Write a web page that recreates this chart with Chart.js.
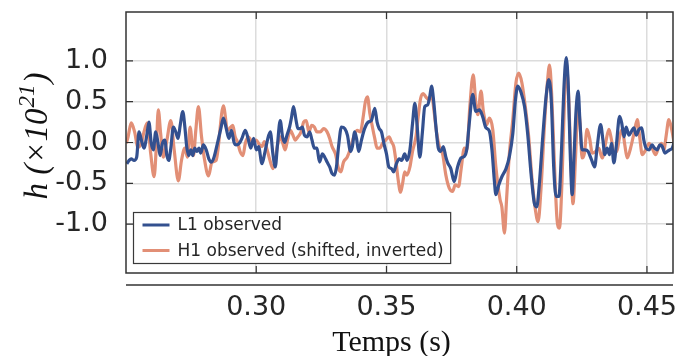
<!DOCTYPE html>
<html>
<head>
<meta charset="utf-8">
<script src="https://cdn.jsdelivr.net/npm/chart.js@4.4.1/dist/chart.umd.min.js"></script>
<style>
  html, body { margin: 0; padding: 0; background: #ffffff; }
  #wrap { width: 678px; height: 356px; position: relative; }
</style>
</head>
<body>
<div id="wrap"><canvas id="c"></canvas></div>
<script>
// ---- data (time in s, strain in units of 1e-21) ----
const seriesLabels = ['L1 observed', 'H1 observed (shifted, inverted)'];

const l1Observed = [
[0.2503,-0.26],[0.2512,-0.22],[0.2520,-0.20],[0.2531,-0.22],[0.2541,-0.18],[0.2550,0.13],[0.2559,0.03],[0.2569,-0.07],
[0.2580,0.09],[0.2588,0.25],[0.2597,-0.01],[0.2605,-0.09],[0.2614,0.13],[0.2623,-0.01],[0.2631,-0.16],[0.2640,-0.01],
[0.2649,0.03],[0.2657,-0.16],[0.2664,-0.22],[0.2672,-0.07],[0.2682,0.19],[0.2691,0.13],[0.2700,0.05],[0.2708,0.21],
[0.2718,0.38],[0.2726,0.19],[0.2733,-0.05],[0.2741,-0.16],[0.2749,-0.09],[0.2756,-0.16],[0.2764,-0.07],[0.2772,-0.11],
[0.2780,-0.07],[0.2787,-0.13],[0.2797,-0.03],[0.2808,-0.09],[0.2818,-0.20],[0.2828,-0.24],[0.2838,-0.18],[0.2851,-0.01],
[0.2864,0.17],[0.2874,0.30],[0.2885,0.17],[0.2895,0.05],[0.2905,0.15],[0.2915,0.00],[0.2923,-0.03],[0.2935,-0.01],
[0.2945,0.05],[0.2958,0.15],[0.2970,0.03],[0.2979,-0.07],[0.2990,0.05],[0.3000,-0.09],[0.3009,-0.05],[0.3022,-0.26],
[0.3032,-0.14],[0.3043,0.03],[0.3054,0.13],[0.3064,-0.14],[0.3073,-0.30],[0.3082,-0.01],[0.3092,0.27],[0.3101,0.07],
[0.3109,0.00],[0.3118,0.09],[0.3128,0.19],[0.3135,0.30],[0.3143,0.44],[0.3153,0.27],[0.3160,0.17],[0.3169,0.17],
[0.3177,0.19],[0.3185,0.09],[0.3195,0.07],[0.3205,0.13],[0.3214,0.03],[0.3223,-0.07],[0.3233,-0.07],[0.3243,-0.24],
[0.3254,-0.14],[0.3263,-0.18],[0.3272,-0.24],[0.3282,-0.30],[0.3291,-0.38],[0.3300,-0.40],[0.3308,-0.30],[0.3316,-0.05],
[0.3327,0.19],[0.3340,0.17],[0.3350,0.09],[0.3362,-0.11],[0.3369,-0.05],[0.3378,0.13],[0.3385,0.05],[0.3393,-0.11],
[0.3404,0.03],[0.3416,0.17],[0.3430,0.25],[0.3442,0.27],[0.3455,0.42],[0.3464,0.25],[0.3472,0.17],[0.3481,0.13],
[0.3490,-0.01],[0.3500,-0.14],[0.3509,-0.30],[0.3519,-0.32],[0.3528,-0.36],[0.3538,-0.26],[0.3549,-0.20],[0.3558,-0.22],
[0.3570,-0.14],[0.3579,-0.22],[0.3590,-0.09],[0.3600,0.23],[0.3609,0.48],[0.3618,0.19],[0.3628,-0.18],[0.3638,0.13],
[0.3647,0.44],[0.3658,0.46],[0.3667,0.58],[0.3673,0.69],[0.3682,0.48],[0.3690,0.19],[0.3699,-0.07],[0.3708,-0.11],
[0.3718,-0.05],[0.3728,-0.18],[0.3735,-0.25],[0.3747,-0.32],[0.3760,-0.48],[0.3773,-0.30],[0.3786,-0.19],[0.3799,-0.17],
[0.3808,-0.09],[0.3818,0.24],[0.3831,0.59],[0.3843,0.38],[0.3857,0.40],[0.3869,0.32],[0.3882,0.18],[0.3895,0.14],
[0.3905,-0.09],[0.3914,-0.46],[0.3920,-0.64],[0.3931,-0.52],[0.3943,-0.42],[0.3959,-0.32],[0.3972,-0.17],[0.3985,0.11],
[0.3995,0.52],[0.4004,0.69],[0.4017,0.61],[0.4030,0.44],[0.4042,0.11],[0.4055,-0.38],[0.4068,-0.75],[0.4077,-0.79],
[0.4087,-0.50],[0.4100,0.07],[0.4113,0.57],[0.4123,0.77],[0.4133,0.50],[0.4142,-0.30],[0.4151,-0.66],[0.4162,-0.66],
[0.4172,-0.09],[0.4181,0.65],[0.4190,1.04],[0.4198,0.69],[0.4205,-0.09],[0.4213,-0.64],[0.4220,-0.17],[0.4228,0.40],
[0.4236,0.63],[0.4243,0.24],[0.4251,-0.09],[0.4262,-0.09],[0.4274,-0.11],[0.4287,-0.21],[0.4299,-0.30],[0.4309,-0.05],
[0.4322,0.22],[0.4331,0.03],[0.4338,-0.15],[0.4347,-0.07],[0.4356,-0.15],[0.4364,-0.01],[0.4373,-0.25],[0.4382,-0.05],
[0.4395,0.32],[0.4403,0.24],[0.4412,0.07],[0.4420,0.19],[0.4431,0.09],[0.4441,0.14],[0.4450,0.18],[0.4459,0.09],
[0.4469,0.16],[0.4480,0.18],[0.4488,0.03],[0.4497,-0.07],[0.4508,-0.09],[0.4520,-0.03],[0.4529,-0.07],[0.4539,-0.09],
[0.4550,-0.03],[0.4559,-0.05],[0.4569,-0.13],[0.4578,-0.11],[0.4587,-0.09],[0.4597,-0.07],[0.4604,0.00]
];

const h1ShiftedInverted = [
[0.2501,-0.01],[0.2508,0.07],[0.2520,0.24],[0.2533,0.13],[0.2546,-0.06],[0.2559,-0.01],[0.2569,0.13],[0.2582,0.24],
[0.2595,-0.14],[0.2608,-0.42],[0.2617,-0.01],[0.2624,0.40],[0.2633,0.11],[0.2643,-0.18],[0.2657,0.03],[0.2672,0.27],
[0.2685,-0.09],[0.2701,-0.47],[0.2713,-0.22],[0.2726,-0.07],[0.2736,-0.18],[0.2746,0.19],[0.2759,-0.16],[0.2768,0.15],
[0.2778,0.44],[0.2790,0.07],[0.2800,-0.18],[0.2817,-0.41],[0.2830,-0.24],[0.2846,-0.22],[0.2874,0.45],[0.2890,0.15],
[0.2903,0.19],[0.2910,0.21],[0.2919,0.07],[0.2928,0.01],[0.2938,-0.11],[0.2949,-0.16],[0.2958,-0.01],[0.2970,0.07],
[0.2979,0.03],[0.2990,0.01],[0.3000,0.03],[0.3013,-0.03],[0.3022,-0.05],[0.3031,0.01],[0.3042,-0.09],[0.3051,-0.20],
[0.3064,-0.32],[0.3073,-0.22],[0.3082,-0.03],[0.3092,0.07],[0.3102,-0.01],[0.3111,-0.09],[0.3120,0.03],[0.3131,0.15],
[0.3141,0.09],[0.3150,0.03],[0.3160,0.07],[0.3172,0.13],[0.3182,0.25],[0.3192,0.27],[0.3202,0.13],[0.3213,0.21],
[0.3223,0.19],[0.3233,0.13],[0.3246,0.13],[0.3259,0.17],[0.3272,0.13],[0.3282,0.05],[0.3291,-0.05],[0.3304,-0.14],
[0.3316,-0.32],[0.3325,-0.36],[0.3335,-0.24],[0.3349,-0.18],[0.3362,-0.07],[0.3374,0.07],[0.3387,0.15],[0.3400,0.13],
[0.3410,0.30],[0.3419,0.50],[0.3427,0.56],[0.3436,0.36],[0.3446,0.19],[0.3455,0.05],[0.3464,-0.07],[0.3474,-0.07],
[0.3485,-0.01],[0.3497,0.03],[0.3510,0.07],[0.3519,0.01],[0.3528,-0.05],[0.3536,-0.22],[0.3545,-0.46],[0.3554,-0.61],
[0.3562,-0.50],[0.3570,-0.36],[0.3579,-0.40],[0.3590,-0.30],[0.3600,-0.11],[0.3613,0.07],[0.3622,0.32],[0.3631,0.54],
[0.3641,0.60],[0.3651,0.56],[0.3664,0.52],[0.3673,0.60],[0.3682,0.40],[0.3692,0.13],[0.3703,-0.05],[0.3716,-0.15],
[0.3728,-0.40],[0.3741,-0.56],[0.3754,-0.60],[0.3764,-0.52],[0.3777,-0.54],[0.3786,-0.34],[0.3799,-0.07],[0.3809,-0.09],
[0.3820,0.44],[0.3833,0.83],[0.3843,0.48],[0.3851,0.34],[0.3863,0.63],[0.3872,0.38],[0.3885,0.22],[0.3895,0.30],
[0.3908,0.16],[0.3920,-0.30],[0.3936,-0.70],[0.3943,-0.79],[0.3953,-1.11],[0.3961,-0.70],[0.3972,-0.13],[0.3985,0.28],
[0.3997,0.73],[0.4008,0.85],[0.4020,0.73],[0.4033,0.44],[0.4046,0.07],[0.4059,-0.46],[0.4072,-0.83],[0.4082,-0.97],
[0.4093,-0.58],[0.4107,0.24],[0.4119,0.78],[0.4126,0.95],[0.4134,0.60],[0.4144,-0.20],[0.4155,-0.95],[0.4164,-1.05],
[0.4174,-0.46],[0.4183,0.48],[0.4191,0.93],[0.4200,0.52],[0.4209,-0.30],[0.4216,-0.75],[0.4226,-0.17],[0.4235,0.44],
[0.4243,0.24],[0.4251,-0.19],[0.4260,-0.13],[0.4270,0.16],[0.4280,0.05],[0.4290,-0.13],[0.4303,-0.11],[0.4315,-0.07],
[0.4328,-0.19],[0.4341,-0.01],[0.4354,0.16],[0.4364,0.03],[0.4373,-0.13],[0.4386,-0.09],[0.4395,0.07],[0.4405,0.16],
[0.4415,-0.03],[0.4424,-0.19],[0.4437,-0.07],[0.4450,0.11],[0.4463,0.28],[0.4472,0.07],[0.4482,-0.15],[0.4495,-0.09],
[0.4508,-0.01],[0.4520,-0.07],[0.4533,-0.15],[0.4546,-0.05],[0.4556,-0.01],[0.4565,-0.09],[0.4574,0.09],[0.4584,0.28],
[0.4595,0.16],[0.4604,0.00]
];

const xTickValues = [0.30, 0.35, 0.40, 0.45];
const yTickValues = [-1.0, -0.5, 0.0, 0.5, 1.0];
const xRange = [0.25, 0.46];
const yRange = [-1.6, 1.6];
const xTitle = 'Temps (s)';
const yTitleParts = ['h (×10', '21', ')'];

const BLUE = '#33508f';
const ORANGE = '#e28f76';
const INK = '#262626';
const SPINE = '#333333';

const toXY = arr => arr.map(p => ({ x: p[0], y: p[1] }));
const noScalePadding = s => { s.paddingLeft = 0; s.paddingRight = 0; s.paddingTop = 0; s.paddingBottom = 0; };

const framePlugin = {
  id: 'frame',
  afterDraw(chart) {
    const { ctx, chartArea: a, scales } = chart;
    const xs = scales.x, ys = scales.y;
    ctx.save();
    // spines
    ctx.strokeStyle = SPINE;
    ctx.lineWidth = 1.5;
    ctx.strokeRect(a.left, a.top, a.right - a.left, a.bottom - a.top);
    // inward ticks on all four sides
    const L = 7;
    ctx.lineWidth = 1.2;
    ctx.beginPath();
    xTickValues.forEach(v => {
      const px = xs.getPixelForValue(v);
      ctx.moveTo(px, a.bottom); ctx.lineTo(px, a.bottom - L);
      ctx.moveTo(px, a.top); ctx.lineTo(px, a.top + L);
    });
    yTickValues.forEach(v => {
      const py = ys.getPixelForValue(v);
      ctx.moveTo(a.left, py); ctx.lineTo(a.left + L, py);
      ctx.moveTo(a.right, py); ctx.lineTo(a.right - L, py);
    });
    ctx.stroke();
    // detached bottom axis line
    ctx.lineWidth = 1.5;
    ctx.beginPath();
    ctx.moveTo(a.left, a.bottom + 12);
    ctx.lineTo(a.right, a.bottom + 12);
    ctx.stroke();

    // legend
    ctx.font = '17px "DejaVu Sans"';
    const tw = Math.max(...seriesLabels.map(s => ctx.measureText(s).width));
    const bx = a.left + 7.5, by = a.bottom - 60.5;
    const bw = 9 + 27 + 8 + tw + 7, bh = 51;
    ctx.fillStyle = '#ffffff';
    ctx.fillRect(bx, by, bw, bh);
    ctx.strokeStyle = '#3a3a3a';
    ctx.lineWidth = 1.2;
    ctx.strokeRect(bx, by, bw, bh);
    const rows = [by + 12.5, by + 38];
    const cols = [BLUE, ORANGE];
    ctx.textBaseline = 'middle';
    ctx.textAlign = 'left';
    rows.forEach((ry, i) => {
      ctx.strokeStyle = cols[i];
      ctx.lineWidth = 3;
      ctx.beginPath();
      ctx.moveTo(bx + 9, ry); ctx.lineTo(bx + 36, ry);
      ctx.stroke();
      ctx.fillStyle = INK;
      ctx.fillText(seriesLabels[i], bx + 44, ry + 1);
    });

    // x title
    ctx.fillStyle = '#111';
    ctx.font = '30px "Liberation Serif"';
    ctx.textAlign = 'center';
    ctx.textBaseline = 'alphabetic';
    ctx.fillText(xTitle, (a.left + a.right) / 2 - 8, 351);

    // y title (rotated, with superscript)
    const big = 'italic 33px "Liberation Serif"', small = 'italic 23px "Liberation Serif"';
    ctx.font = big; const w0 = ctx.measureText(yTitleParts[0]).width;
    const w2 = ctx.measureText(yTitleParts[2]).width;
    ctx.font = small; const w1 = ctx.measureText(yTitleParts[1]).width;
    const total = w0 + w1 + w2 + 2;
    ctx.translate(47, 136);
    ctx.rotate(-Math.PI / 2);
    ctx.textAlign = 'left';
    let cx = -total / 2;
    ctx.font = big; ctx.fillText(yTitleParts[0], cx, 0); cx += w0 + 1;
    ctx.font = small; ctx.fillText(yTitleParts[1], cx, -13); cx += w1 + 1;
    ctx.font = big; ctx.fillText(yTitleParts[2], cx, 0);
    ctx.restore();
  }
};

new Chart(document.getElementById('c'), {
  type: 'line',
  data: {
    datasets: [
      { label: seriesLabels[0], data: toXY(l1Observed), borderColor: BLUE, borderWidth: 3.2,
        pointRadius: 0, cubicInterpolationMode: 'monotone', fill: false },
      { label: seriesLabels[1], data: toXY(h1ShiftedInverted), borderColor: ORANGE, borderWidth: 3.2,
        pointRadius: 0, cubicInterpolationMode: 'monotone', fill: false }
    ]
  },
  options: {
    responsive: true,
    maintainAspectRatio: false,
    animation: false,
    devicePixelRatio: 1,
    layout: { padding: { top: 12, right: 5, left: 0, bottom: 0 } },
    plugins: { legend: { display: false }, tooltip: { enabled: false } },
    scales: {
      x: {
        type: 'linear', min: xRange[0], max: xRange[1],
        afterBuildTicks: s => { s.ticks = xTickValues.map(v => ({ value: v })); },
        afterFit: s => { s.height = 83; noScalePadding(s); },
        grid: { color: '#dcdcdc', lineWidth: 1.5, drawTicks: false },
        border: { display: false },
        ticks: { color: INK, font: { family: 'DejaVu Sans', size: 27 }, padding: 19,
                 maxRotation: 0, autoSkip: false, callback: v => Number(v).toFixed(2) }
      },
      y: {
        type: 'linear', min: yRange[0], max: yRange[1],
        afterBuildTicks: s => { s.ticks = yTickValues.map(v => ({ value: v })); },
        afterFit: s => { s.width = 126; noScalePadding(s); },
        grid: { color: '#dcdcdc', lineWidth: 1.5, drawTicks: false },
        border: { display: false },
        ticks: { color: INK, font: { family: 'DejaVu Sans', size: 27 }, padding: 18,
                 autoSkip: false, callback: v => Number(v).toFixed(1) }
      }
    }
  },
  plugins: [framePlugin]
});
</script>
</body>
</html>
